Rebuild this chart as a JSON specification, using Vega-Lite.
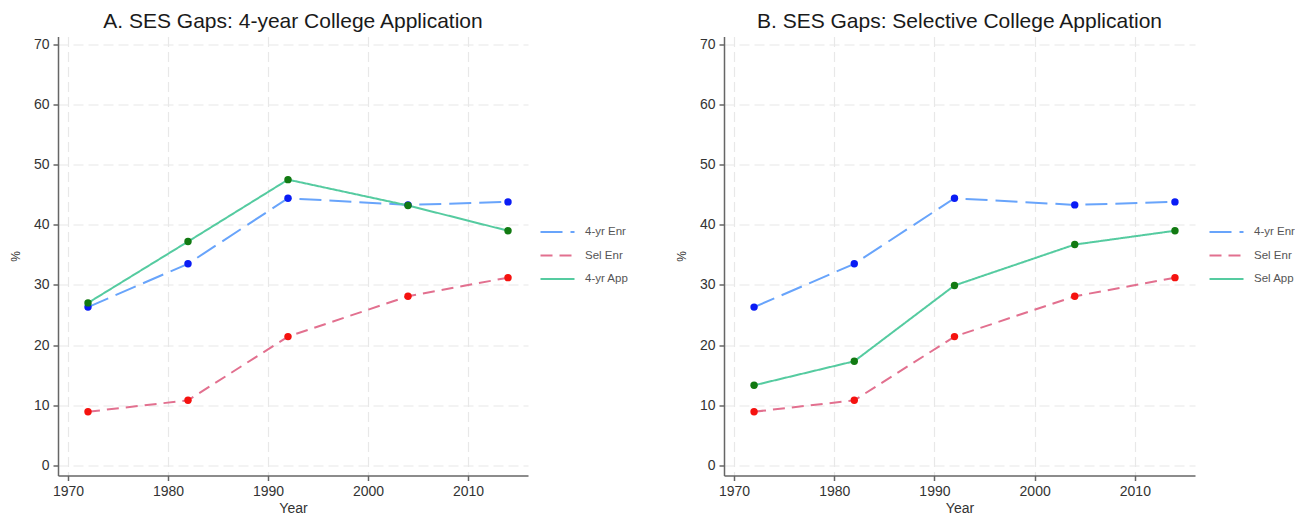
{
  "$schema": "https://vega.github.io/schema/vega-lite/v6.json",
  "padding": {"left": 9, "top": 10.5, "right": 0, "bottom": 0},
  "background": "white",
  "config": {
    "view": {"stroke": null},
    "font": "Liberation Sans",
    "title": {"font": "Liberation Sans", "fontSize": 21, "fontWeight": "normal", "color": "#1a1a1a", "offset": 5},
    "axis": {
      "labelFont": "Liberation Sans",
      "labelFontSize": 14,
      "labelColor": "#333333",
      "titleFont": "Liberation Sans",
      "titleFontSize": 14,
      "titleFontWeight": "normal",
      "titleColor": "#333333",
      "domainColor": "#666666",
      "domainWidth": 1.5,
      "tickColor": "#666666",
      "tickWidth": 1.5,
      "tickSize": 5,
      "grid": true,
      "gridColor": "#e8e8e8",
      "gridDash": [10, 5],
      "gridWidth": 1.2
    },
    "legend": {
      "labelFont": "Liberation Sans",
      "labelFontSize": 11.5,
      "labelColor": "#555555",
      "padding": 0,
      "rowPadding": 8.5,
      "labelOffset": 18,
      "symbolType": "M-2,0H2",
      "symbolSize": 289,
      "symbolStrokeWidth": 2
    }
  },
  "data": {
    "values": [
      {"panel": "A", "series": "4-yr Enr", "year": 1972, "value": 26.3},
      {"panel": "A", "series": "4-yr Enr", "year": 1982, "value": 33.5},
      {"panel": "A", "series": "4-yr Enr", "year": 1992, "value": 44.4},
      {"panel": "A", "series": "4-yr Enr", "year": 2004, "value": 43.3},
      {"panel": "A", "series": "4-yr Enr", "year": 2014, "value": 43.8},
      {"panel": "A", "series": "Sel Enr", "year": 1972, "value": 8.9},
      {"panel": "A", "series": "Sel Enr", "year": 1982, "value": 10.8},
      {"panel": "A", "series": "Sel Enr", "year": 1992, "value": 21.4},
      {"panel": "A", "series": "Sel Enr", "year": 2004, "value": 28.1},
      {"panel": "A", "series": "Sel Enr", "year": 2014, "value": 31.2},
      {"panel": "A", "series": "4-yr App", "year": 1972, "value": 27.0},
      {"panel": "A", "series": "4-yr App", "year": 1982, "value": 37.2},
      {"panel": "A", "series": "4-yr App", "year": 1992, "value": 47.5},
      {"panel": "A", "series": "4-yr App", "year": 2004, "value": 43.2},
      {"panel": "A", "series": "4-yr App", "year": 2014, "value": 39.0},
      {"panel": "B", "series": "4-yr Enr", "year": 1972, "value": 26.3},
      {"panel": "B", "series": "4-yr Enr", "year": 1982, "value": 33.5},
      {"panel": "B", "series": "4-yr Enr", "year": 1992, "value": 44.4},
      {"panel": "B", "series": "4-yr Enr", "year": 2004, "value": 43.3},
      {"panel": "B", "series": "4-yr Enr", "year": 2014, "value": 43.8},
      {"panel": "B", "series": "Sel Enr", "year": 1972, "value": 8.9},
      {"panel": "B", "series": "Sel Enr", "year": 1982, "value": 10.8},
      {"panel": "B", "series": "Sel Enr", "year": 1992, "value": 21.4},
      {"panel": "B", "series": "Sel Enr", "year": 2004, "value": 28.1},
      {"panel": "B", "series": "Sel Enr", "year": 2014, "value": 31.2},
      {"panel": "B", "series": "Sel App", "year": 1972, "value": 13.3},
      {"panel": "B", "series": "Sel App", "year": 1982, "value": 17.3},
      {"panel": "B", "series": "Sel App", "year": 1992, "value": 29.9},
      {"panel": "B", "series": "Sel App", "year": 2004, "value": 36.7},
      {"panel": "B", "series": "Sel App", "year": 2014, "value": 39.0}
    ]
  },
  "resolve": {
    "scale": {"stroke": "independent", "strokeDash": "independent", "fill": "independent"},
    "legend": {"stroke": "independent", "strokeDash": "independent"}
  },
  "spacing": 46,
  "hconcat": [
    {
      "title": "A. SES Gaps: 4-year College Application",
      "width": 470,
      "height": 439,
      "transform": [{"filter": "datum.panel === 'A'"}],
      "encoding": {
        "x": {"field": "year", "type": "quantitative", "title": "Year",
              "scale": {"domain": [1969, 2016], "nice": false, "zero": false},
              "axis": {"values": [1970, 1980, 1990, 2000, 2010], "format": "d", "labelPadding": 4, "titlePadding": 3}},
        "y": {"field": "value", "type": "quantitative", "title": "%",
              "scale": {"domain": [-1.7, 71.3], "nice": false, "zero": false},
              "axis": {"values": [0, 10, 20, 30, 40, 50, 60, 70], "labelPadding": 4, "titlePadding": 11, "titleFontSize": 12}}
      },
      "layer": [
        {
          "mark": {"type": "line", "strokeWidth": 2},
          "encoding": {
            "stroke": {"field": "series", "type": "nominal",
                       "scale": {"domain": ["4-yr Enr", "Sel Enr", "4-yr App"], "range": ["#68a4fb", "#e2708f", "#55cba0"]},
                       "legend": {"title": null, "orient": "none", "legendX": 490, "legendY": 186}},
            "strokeDash": {"field": "series", "type": "nominal",
                           "scale": {"domain": ["4-yr Enr", "Sel Enr", "4-yr App"], "range": [[22, 8], [12, 7], [1, 0]]},
                           "legend": {"title": null, "orient": "none", "legendX": 490, "legendY": 186}}
          }
        },
        {
          "mark": {"type": "point", "filled": true, "size": 55, "opacity": 1},
          "encoding": {
            "fill": {"field": "series", "type": "nominal",
                     "scale": {"domain": ["4-yr Enr", "Sel Enr", "4-yr App"], "range": ["#0a1cf5", "#f5120f", "#127a12"]},
                     "legend": null}
          }
        }
      ]
    },
    {
      "title": "B. SES Gaps: Selective College Application",
      "width": 471,
      "height": 439,
      "transform": [{"filter": "datum.panel === 'B'"}],
      "encoding": {
        "x": {"field": "year", "type": "quantitative", "title": "Year",
              "scale": {"domain": [1969, 2016], "nice": false, "zero": false},
              "axis": {"values": [1970, 1980, 1990, 2000, 2010], "format": "d", "labelPadding": 4, "titlePadding": 3}},
        "y": {"field": "value", "type": "quantitative", "title": "%",
              "scale": {"domain": [-1.7, 71.3], "nice": false, "zero": false},
              "axis": {"values": [0, 10, 20, 30, 40, 50, 60, 70], "labelPadding": 4, "titlePadding": 11, "titleFontSize": 12}}
      },
      "layer": [
        {
          "mark": {"type": "line", "strokeWidth": 2},
          "encoding": {
            "stroke": {"field": "series", "type": "nominal",
                       "scale": {"domain": ["4-yr Enr", "Sel Enr", "Sel App"], "range": ["#68a4fb", "#e2708f", "#55cba0"]},
                       "legend": {"title": null, "orient": "none", "legendX": 493, "legendY": 186}},
            "strokeDash": {"field": "series", "type": "nominal",
                           "scale": {"domain": ["4-yr Enr", "Sel Enr", "Sel App"], "range": [[22, 8], [12, 7], [1, 0]]},
                           "legend": {"title": null, "orient": "none", "legendX": 493, "legendY": 186}}
          }
        },
        {
          "mark": {"type": "point", "filled": true, "size": 55, "opacity": 1},
          "encoding": {
            "fill": {"field": "series", "type": "nominal",
                     "scale": {"domain": ["4-yr Enr", "Sel Enr", "Sel App"], "range": ["#0a1cf5", "#f5120f", "#127a12"]},
                     "legend": null}
          }
        }
      ]
    }
  ]
}
